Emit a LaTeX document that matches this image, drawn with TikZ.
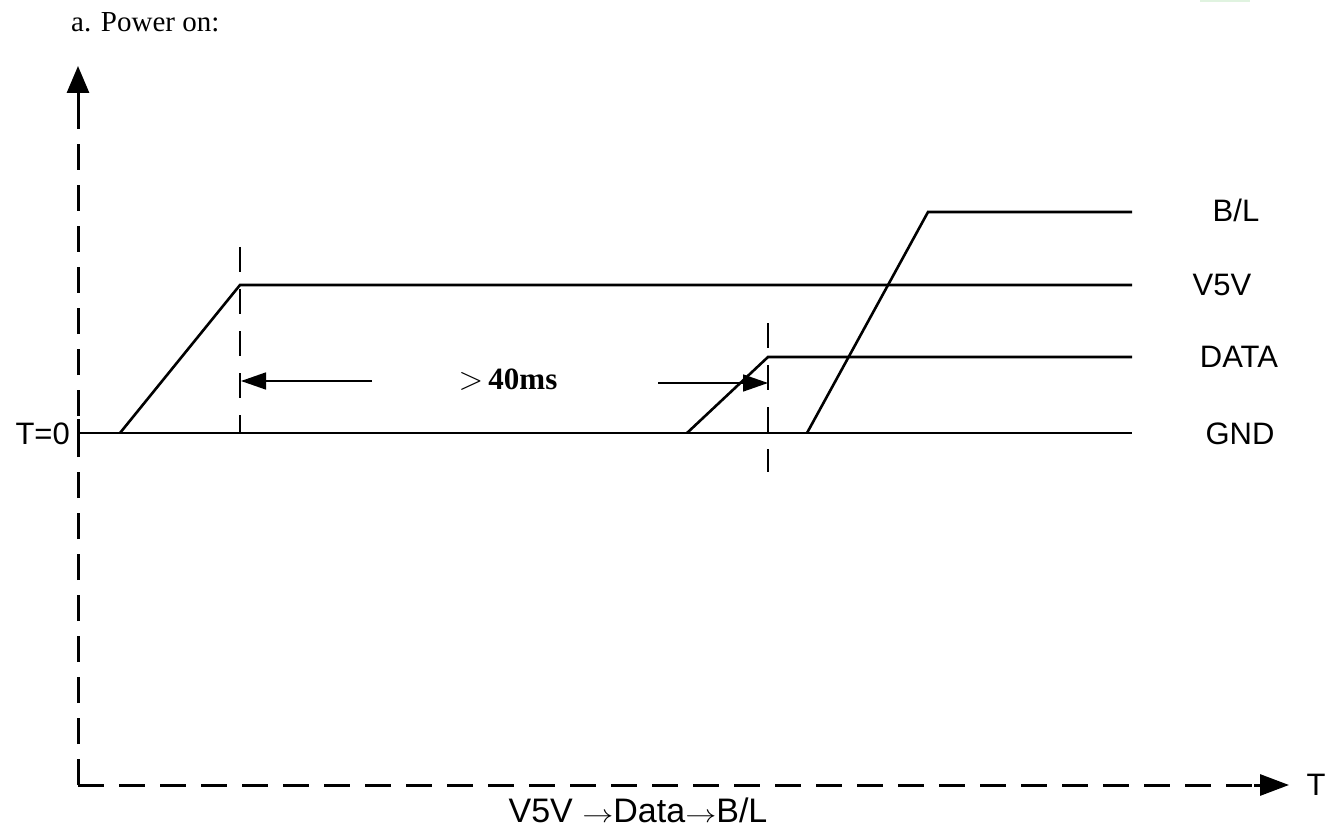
\documentclass[tikz,border=0pt]{standalone}
\usepackage{fontspec}
\setmainfont{Liberation Serif}
\newfontfamily\labelfont{Liberation Sans}
\usetikzlibrary{arrows.meta}
\newcommand{\seqarrow}{\scalebox{1.25}[1]{$\rightarrow$}}
\tikzset{
  sig/.style={line width=2.6pt, line cap=butt, line join=miter},
  axisline/.style={line width=3pt, dash pattern=on 26pt off 15pt},
  marker/.style={line width=2.4pt, dash pattern=on 25pt off 17pt},
  lab/.style={font=\labelfont\fontsize{31}{36}\selectfont, inner sep=0pt, anchor=center},
  meas/.style={line width=1.6pt, -{Triangle[length=25pt,width=17pt]}},
}
\begin{document}
\begin{tikzpicture}[x=1pt,y=-1pt]
\useasboundingbox (0,0) rectangle (1334,829);
\fill[green!60!black, opacity=0.12] (1200,0) rectangle (1250,2);
% title
\node[font=\fontsize{29}{34}\selectfont, inner sep=0pt, anchor=west] (title) at (71,22) {a. Power on:};
% axes
\coordinate (O) at (78,785);
\coordinate (ytop) at (78,115);
\coordinate (ytip) at (78,66);
\coordinate (xend) at (1256,785);
\coordinate (xtip) at (1289,785);
\draw[axisline] (O) -- (ytop);
\draw[line width=3pt, -{Triangle[length=27pt,width=22pt]}] (ytop) -- (ytip);
\draw[axisline] (O) -- (xend);
\draw[line width=3pt, -{Triangle[length=29pt,width=21pt]}] (1254,785) -- (xtip);
\draw[line width=3pt] (78,419) -- (78,447);
% signal points
\coordinate (g0) at (78,433);
\coordinate (gend) at (1132,433);
\coordinate (v0) at (120,433);
\coordinate (v1) at (240,285);
\coordinate (vend) at (1132,285);
\coordinate (d0) at (687,433);
\coordinate (d1) at (768,357);
\coordinate (dend) at (1132,357);
\coordinate (b0) at (807,433);
\coordinate (b1) at (928,212);
\coordinate (bend) at (1132,212);
\draw[sig] (g0) -- (gend);
\draw[sig] (v0) -- (v1) -- (vend);
\draw[sig] (d0) -- (d1) -- (dend);
\draw[sig] (b0) -- (b1) -- (bend);
% markers
\coordinate (m1a) at (240,247);
\coordinate (m1b) at (240,433);
\coordinate (m2a) at (768,323);
\coordinate (m2b) at (768,472);
\draw[marker] (m1a) -- (m1b);
\draw[marker] (m2a) -- (m2b);
% measurement
\coordinate (la) at (372,381);
\coordinate (lb) at (241,381);
\coordinate (ra) at (658,383);
\coordinate (rb) at (768,383);
\draw[meas] (la) -- (lb);
\draw[meas] (ra) -- (rb);
\node[inner sep=0pt, anchor=center] (dt) at (508,380) {\fontsize{31}{36}\selectfont\scalebox{1.3}{$>$}\,\textbf{40ms}};
% labels
\node[lab] (lbl) at (1236,210) {B/L};
\node[lab] (lv) at (1222,285) {V5V};
\node[lab] (ld) at (1239,357) {DATA};
\node[lab] (lg) at (1240,434) {GND};
\node[lab, anchor=east] (lt0) at (70,434) {T=0};
\node[lab] (lT) at (1316,785) {T};
\node[lab, font=\labelfont\fontsize{34}{38}\selectfont] (seq) at (638,810) {V5V \seqarrow Data\seqarrow B/L};
\end{tikzpicture}
\end{document}
